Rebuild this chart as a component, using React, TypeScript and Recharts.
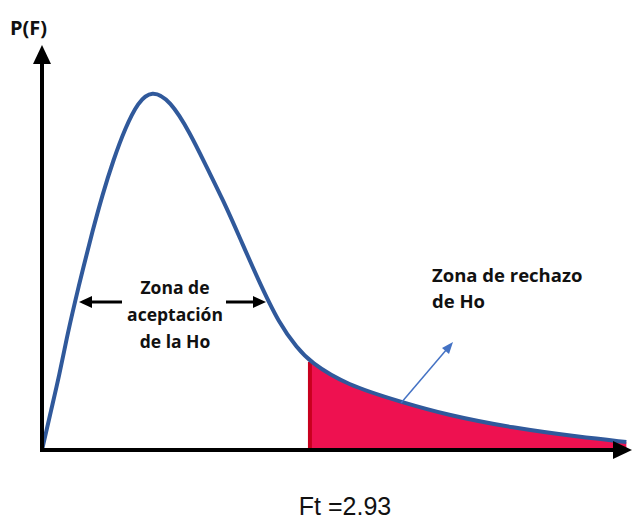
import { ComposedChart, Line, Area, XAxis, YAxis, ReferenceLine } from 'recharts'

// F values read along the curve, and the height of the curve at each one
const fValues = [0, 0.1, 0.19, 0.27, 0.36, 0.45, 0.55, 0.66, 0.78, 0.91, 1.05, 1.2, 1.4, 1.62, 1.8, 1.98, 2.16, 2.35, 2.6, 2.79, 2.93, 3.33, 3.93, 4.43, 5.15, 5.88, 6.39]
const density = [0, 0.08, 0.15, 0.224, 0.296, 0.364, 0.436, 0.51, 0.58, 0.644, 0.696, 0.72, 0.7, 0.634, 0.566, 0.5, 0.426, 0.346, 0.25, 0.205, 0.176, 0.13, 0.096, 0.07, 0.044, 0.026, 0.016]
const ft = 2.93
const ftLabel = 'Ft =2.93'
const yLabel = 'P(F)'
const acceptLines = ['Zona de', 'aceptación', 'de la Ho']
const rejectLines = ['Zona de rechazo', 'de Ho']

const data = fValues.map((f, i) => ({
  f,
  p: density[i],
  reject: f >= ft ? density[i] : null,
}))

const W = 632
const H = 521
const BOLD = '"Open Sans", "Noto Sans", sans-serif'

export default function App() {
  return (
    <div style={{ position: 'absolute', left: 0, top: 0, width: W, height: H, background: '#fff' }}>
      <ComposedChart
        width={W}
        height={H}
        data={data}
        margin={{ top: 45, right: 2, bottom: 71, left: 42 }}
      >
        <XAxis type="number" dataKey="f" domain={[0, 6.43]} hide />
        <YAxis type="number" domain={[0, 0.81]} hide />
        <Area
          dataKey="reject"
          type="basis"
          stroke="none"
          fill="#ee1150"
          fillOpacity={1}
          isAnimationActive={false}
        />
        <ReferenceLine
          segment={[{ x: ft, y: 0 }, { x: ft, y: 0.176 }]}
          stroke="#c8001e"
          strokeWidth={4}
        />
        <Line
          dataKey="p"
          type="basis"
          stroke="#30599b"
          strokeWidth={4}
          dot={false}
          isAnimationActive={false}
        />
      </ComposedChart>

      <svg
        width={W}
        height={H}
        style={{ position: 'absolute', left: 0, top: 0, pointerEvents: 'none' }}
      >
        {/* axes with arrowheads */}
        <line x1={42} y1={450} x2={42} y2={60} stroke="#000" strokeWidth={4} />
        <polygon points="42,45 33,64 51,64" fill="#000" />
        <line x1={40} y1={450} x2={615} y2={450} stroke="#000" strokeWidth={4} />
        <polygon points="632,450 613,441 613,459" fill="#000" />

        <text x={10} y={35} fontFamily={BOLD} fontWeight={700} fontSize={20} fill="#111">
          {yLabel}
        </text>

        {/* acceptance zone label with double arrow */}
        <line x1={122} y1={302} x2={90} y2={302} stroke="#000" strokeWidth={3} />
        <polygon points="79,302 92,296 92,308" fill="#000" />
        <line x1={226} y1={302} x2={254} y2={302} stroke="#000" strokeWidth={3} />
        <polygon points="266,302 253,296 253,308" fill="#000" />
        {acceptLines.map((t, i) => (
          <text
            key={t}
            x={175}
            y={294 + i * 27}
            textAnchor="middle"
            fontFamily={BOLD}
            fontWeight={700}
            fontSize={17.5}
            fill="#111"
          >
            {t}
          </text>
        ))}

        {/* rejection zone label */}
        {rejectLines.map((t, i) => (
          <text
            key={t}
            x={432}
            y={282 + i * 26}
            fontFamily={BOLD}
            fontWeight={700}
            fontSize={18.5}
            fill="#111"
          >
            {t}
          </text>
        ))}
        <line x1={401} y1={403} x2={447} y2={349} stroke="#4472c4" strokeWidth={1.5} />
        <polygon points="453,342 442,348 449,354" fill="#4472c4" />

        <text
          x={345}
          y={515}
          textAnchor="middle"
          fontFamily='"Liberation Sans", Arial, sans-serif'
          fontSize={25}
          fill="#111"
        >
          {ftLabel}
        </text>
      </svg>
    </div>
  )
}
